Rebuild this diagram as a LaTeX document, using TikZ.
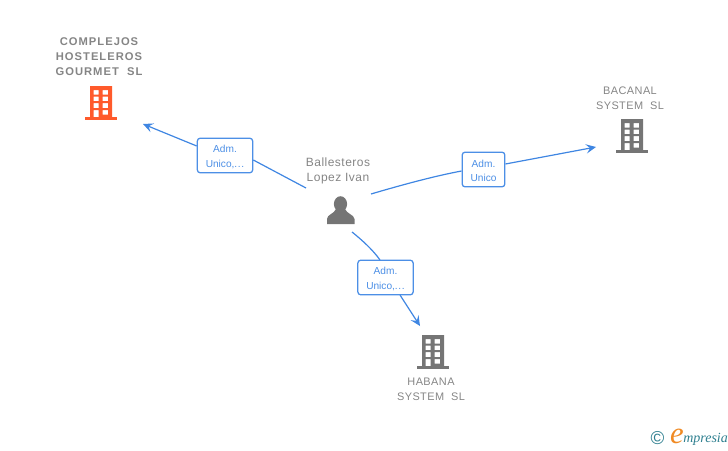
\documentclass[tikz,border=0pt]{standalone}
\usepackage{fontspec}
\setmainfont{Liberation Sans}
\newfontfamily\logofont{Liberation Serif}
\newfontfamily\spacedfont[LetterSpace=4]{Liberation Sans}
\newfontfamily\spacedbold[LetterSpace=9,BoldFont={Liberation Sans Bold}]{Liberation Sans Bold}
\usetikzlibrary{arrows.meta}
\definecolor{linkblue}{HTML}{3F86E2}
\definecolor{boxblue}{HTML}{4C8FE6}
\definecolor{iconorange}{HTML}{FF5A2B}
\definecolor{icongray}{HTML}{757575}
\definecolor{namegray}{HTML}{858585}
\definecolor{logoteal}{HTML}{2E7F8F}
\definecolor{logoorange}{HTML}{F08A24}
\newcommand{\rolestrut}{\rule{0pt}{7.6pt}}
\tikzset{
  link/.style={linkblue, line width=0.9pt},
  tip/.style={-{Stealth[length=7.5pt,width=7pt,inset=3pt]}},
  rolebox/.style={draw=boxblue, line width=0.95pt, rounded corners=2.2pt, fill=white, text=boxblue,
    font=\fontsize{7.6}{11.2}\selectfont, align=center, inner sep=0pt},
  firmname/.style={text=namegray, align=center, font=\spacedfont\fontsize{8.2}{11.2}\selectfont},
  pics/building/.style={code={
    \fill[#1, even odd rule] (-11,-33.5) rectangle (11,-2)
      (-7.5,-29.5) rectangle (-2.5,-25) (1.5,-29.5) rectangle (7,-25)
      (-7.5,-23) rectangle (-2.5,-18.5) (1.5,-23) rectangle (7,-18.5)
      (-7.5,-16.5) rectangle (-2.5,-11.5) (1.5,-16.5) rectangle (7,-11.5)
      (-7.5,-9.5) rectangle (-2.5,-2) (1.5,-9.5) rectangle (7,-5);
    \fill[#1] (-16,-2.5) rectangle (16,0);
  }},
}
\begin{document}
\begin{tikzpicture}[x=0.75pt,y=-0.75pt]
  \useasboundingbox (0,0) rectangle (728,450);

  % firms and person
  \pic at (101,119.5) {building=iconorange};
  \pic at (632,152.5) {building=icongray};
  \pic at (433,368.5) {building=icongray};

  \fill[icongray] (340.5,204) ellipse (6.6 and 7.8);
  \fill[icongray] (327,224) -- (327,219) .. controls (327,214.5) and (334,214) .. (336,209)
    -- (345,209) .. controls (347,214) and (354,214.5) .. (354.5,219) -- (354.5,224) -- cycle;

  \node[firmname, font=\spacedbold\fontsize{8.4}{11.2}\selectfont] (complejos) at (99,56.5) {COMPLEJOS\\HOSTELEROS\\GOURMET\ \ SL};
  \node[firmname] (bacanal) at (630,98) {BACANAL\\SYSTEM\ \ SL};
  \node[firmname] (habana) at (431,389) {HABANA\\SYSTEM\ \ SL};
  \node[firmname, font=\spacedfont\fontsize{9}{11.2}\selectfont] (ballesteros) at (338,170.5) {Ballesteros\\Lopez Ivan};

  % boxes
  \node[rolebox, minimum width=41.5pt, minimum height=26pt] (admA) at (225,155.5) {\rolestrut Adm.\\Unico,.\kern0.5pt.\kern0.5pt.};
  \node[rolebox, minimum width=32pt, minimum height=26pt] (admB) at (483.5,169.5) {\rolestrut Adm.\\Unico};
  \node[rolebox, minimum width=41.5pt, minimum height=26pt] (admC) at (385.5,277.5) {\rolestrut Adm.\\Unico,.\kern0.5pt.\kern0.5pt.};

  \coordinate (startA) at (306,188);
  \coordinate (endA) at (143,124);
  \coordinate (startB) at (371,194);
  \coordinate (endB) at (596,147);
  \coordinate (startC) at (352,232);
  \coordinate (endC) at (420,326);

  % connectors
  \draw[link] (startA) -- (admA.east |- 0,160);
  \draw[link, tip] (admA.west |- 0,146) -- (endA);
  \draw[link] (startB) .. controls (405,184) and (435,176) .. (admB.west |- 0,171);
  \draw[link, tip] (admB.east |- 0,164) -- (endB);
  \draw[link] (startC) .. controls (362,240) and (373,250) .. (380,260);
  \draw[link, tip] (400,295) -- (endC);

  % logo
  \node[text=logoteal, font=\fontsize{14}{14}\selectfont, inner sep=0pt] (logoc) at (657.5,438.5) {©};
  \node[text=logoorange, font=\logofont\itshape\fontsize{23}{23}\selectfont, inner sep=0pt] (logoe) at (677,436.5) {e};
  \node[text=logoteal, font=\logofont\itshape\fontsize{10.5}{10.5}\selectfont, inner sep=0pt, anchor=west] (logot) at (683,439.5) {mpresia};
\end{tikzpicture}
\end{document}
